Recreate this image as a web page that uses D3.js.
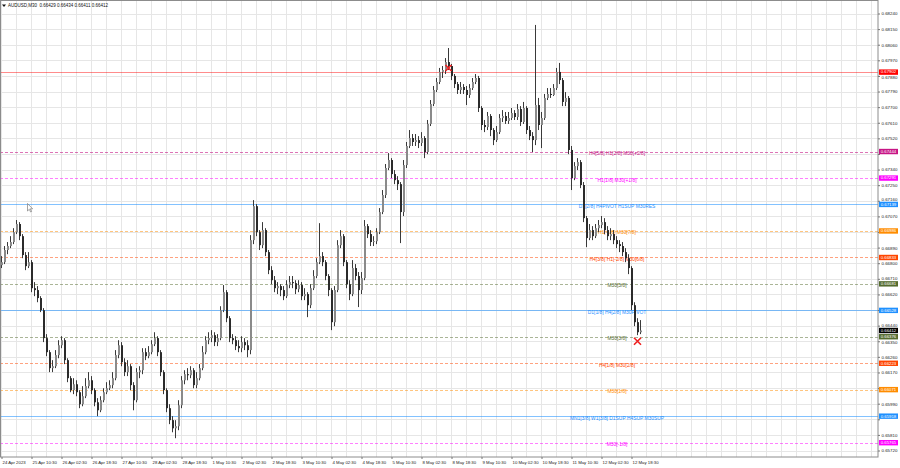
<!DOCTYPE html>
<html><head><meta charset="utf-8">
<script src="https://cdn.jsdelivr.net/npm/d3@7/dist/d3.min.js"></script>
<style>html,body{margin:0;padding:0;background:#fff;overflow:hidden}</style>
</head><body>
<svg id="c" width="900" height="468"></svg>
<script>
// ---------- data ----------
const symbolTitle = "AUDUSD,M30  0.66429 0.66434 0.66411 0.66412";
const firstOpen = 0.66789;
const closes = [
0.66806,0.66876,0.66899,0.66922,0.66979,0.67026,0.66956,0.66847,0.66783,0.66806,
0.66656,0.66645,0.66599,0.66529,0.66368,0.66287,0.66195,0.66206,0.66270,0.66327,
0.66356,0.66241,0.66137,0.66068,0.66102,0.66056,0.65987,0.66033,0.66091,0.66125,
0.66068,0.65998,0.65952,0.66010,0.66056,0.66079,0.66097,0.66137,0.66270,0.66327,
0.66229,0.66172,0.66206,0.66097,0.66010,0.66172,0.66183,0.66287,0.66264,0.66287,
0.66333,0.66368,0.66287,0.66172,0.66068,0.65964,0.65895,0.65848,0.65860,0.65981,
0.66125,0.66160,0.66154,0.66183,0.66097,0.66137,0.66195,0.66287,0.66356,0.66368,
0.66385,0.66345,0.66368,0.66529,0.66633,0.66483,0.66368,0.66356,0.66322,0.66310,
0.66345,0.66327,0.66299,0.66933,0.67129,0.66979,0.66904,0.66991,0.66864,0.66760,
0.66702,0.66656,0.66668,0.66645,0.66610,0.66674,0.66691,0.66685,0.66650,0.66674,
0.66610,0.66622,0.66558,0.66656,0.66726,0.66806,0.66841,0.66806,0.66726,0.66645,
0.66460,0.66645,0.66904,0.66956,0.66806,0.66679,0.66622,0.66772,0.66726,0.66645,
0.66714,0.67014,0.66968,0.66922,0.66927,0.66979,0.67095,0.67193,0.67349,0.67395,
0.67314,0.67279,0.67256,0.67095,0.67366,0.67476,0.67522,0.67499,0.67510,0.67493,
0.67522,0.67441,0.67603,0.67718,0.67799,0.67845,0.67903,0.67914,0.67960,0.67937,
0.67880,0.67833,0.67799,0.67816,0.67799,0.67770,0.67810,0.67845,0.67868,0.67695,
0.67597,0.67585,0.67649,0.67568,0.67510,0.67556,0.67637,0.67649,0.67620,0.67637,
0.67666,0.67643,0.67689,0.67614,0.67695,0.67568,0.67533,0.67510,0.67712,0.67597,
0.67637,0.67753,0.67776,0.67770,0.67810,0.67903,0.67856,0.67730,0.67753,0.67453,
0.67291,0.67360,0.67383,0.67251,0.67060,0.66945,0.66991,0.66956,0.67002,0.67020,
0.67037,0.66991,0.66956,0.66968,0.66933,0.66910,0.66899,0.66864,0.66829,0.66772,
0.66558,0.66460,0.66402,0.66412];
const highs = [
0.66841,0.66899,0.66922,0.66956,0.67002,0.67049,0.67037,0.66968,0.66864,0.66864,
0.66818,0.66691,0.66668,0.66610,0.66541,0.66391,0.66299,0.66241,0.66299,0.66356,
0.66379,0.66368,0.66252,0.66149,0.66137,0.66125,0.66068,0.66091,0.66137,0.66172,
0.66149,0.66079,0.66022,0.66033,0.66079,0.66114,0.66125,0.66172,0.66299,0.66356,
0.66345,0.66252,0.66241,0.66218,0.66114,0.66195,0.66206,0.66310,0.66310,0.66322,
0.66356,0.66402,0.66379,0.66299,0.66183,0.66079,0.65987,0.65918,0.65895,0.66010,
0.66149,0.66183,0.66195,0.66206,0.66195,0.66172,0.66218,0.66322,0.66379,0.66402,
0.66414,0.66402,0.66391,0.66552,0.66674,0.66645,0.66495,0.66391,0.66379,0.66356,
0.66379,0.66368,0.66356,0.66962,0.67164,0.67141,0.66991,0.67037,0.67002,0.66876,
0.66783,0.66726,0.66691,0.66679,0.66668,0.66702,0.66726,0.66726,0.66702,0.66702,
0.66691,0.66656,0.66633,0.66679,0.66760,0.66829,0.67031,0.66864,0.66818,0.66737,
0.66656,0.66668,0.66933,0.66991,0.66968,0.66818,0.66702,0.66818,0.66795,0.66749,
0.66749,0.67049,0.67026,0.66991,0.66956,0.67002,0.67118,0.67222,0.67372,0.67435,
0.67406,0.67337,0.67302,0.67268,0.67395,0.67499,0.67568,0.67545,0.67545,0.67533,
0.67556,0.67533,0.67626,0.67741,0.67822,0.67868,0.67926,0.67937,0.67983,0.68041,
0.67949,0.67891,0.67845,0.67845,0.67833,0.67822,0.67833,0.67868,0.67891,0.67880,
0.67706,0.67626,0.67672,0.67660,0.67579,0.67591,0.67660,0.67683,0.67672,0.67672,
0.67695,0.67683,0.67718,0.67706,0.67730,0.67706,0.67591,0.67556,0.68174,0.67753,
0.67672,0.67776,0.67810,0.67810,0.67833,0.67926,0.67955,0.67868,0.67787,0.67764,
0.67476,0.67383,0.67406,0.67395,0.67268,0.67072,0.67026,0.67014,0.67026,0.67049,
0.67072,0.67060,0.67014,0.67002,0.66991,0.66956,0.66933,0.66922,0.66887,0.66852,
0.66783,0.66575,0.66483,0.66472];
const lows = [
0.66772,0.66795,0.66852,0.66887,0.66910,0.66968,0.66933,0.66829,0.66760,0.66772,
0.66633,0.66610,0.66575,0.66518,0.66345,0.66264,0.66172,0.66172,0.66195,0.66252,
0.66310,0.66218,0.66114,0.66056,0.66045,0.66033,0.65964,0.65975,0.66022,0.66079,
0.66045,0.65975,0.65918,0.65941,0.65998,0.66045,0.66068,0.66079,0.66125,0.66252,
0.66206,0.66149,0.66149,0.66068,0.65952,0.65998,0.66137,0.66160,0.66241,0.66252,
0.66275,0.66322,0.66264,0.66149,0.66045,0.65941,0.65872,0.65825,0.65791,0.65837,
0.65964,0.66102,0.66125,0.66137,0.66079,0.66079,0.66125,0.66183,0.66275,0.66333,
0.66345,0.66322,0.66322,0.66356,0.66518,0.66460,0.66345,0.66333,0.66299,0.66287,
0.66287,0.66299,0.66258,0.66275,0.66910,0.66956,0.66876,0.66887,0.66841,0.66737,
0.66679,0.66633,0.66622,0.66610,0.66587,0.66599,0.66656,0.66656,0.66622,0.66633,
0.66587,0.66587,0.66489,0.66541,0.66645,0.66714,0.66795,0.66783,0.66702,0.66610,
0.66414,0.66437,0.66633,0.66887,0.66783,0.66656,0.66587,0.66610,0.66702,0.66547,
0.66622,0.66702,0.66945,0.66899,0.66899,0.66910,0.66968,0.67083,0.67176,0.67337,
0.67291,0.67256,0.67222,0.66916,0.67072,0.67349,0.67464,0.67476,0.67476,0.67464,
0.67476,0.67406,0.67429,0.67591,0.67706,0.67787,0.67833,0.67868,0.67891,0.67914,
0.67856,0.67810,0.67776,0.67776,0.67776,0.67712,0.67753,0.67799,0.67833,0.67672,
0.67568,0.67556,0.67568,0.67533,0.67481,0.67499,0.67545,0.67614,0.67603,0.67603,
0.67626,0.67626,0.67626,0.67591,0.67603,0.67545,0.67510,0.67441,0.67481,0.67568,
0.67464,0.67626,0.67741,0.67753,0.67764,0.67799,0.67833,0.67706,0.67706,0.67429,
0.67222,0.67279,0.67337,0.67233,0.67037,0.66893,0.66933,0.66933,0.66945,0.66979,
0.67002,0.66968,0.66933,0.66933,0.66910,0.66887,0.66864,0.66841,0.66806,0.66737,
0.66529,0.66437,0.66385,0.66391];
const timeLabels = ["24 Apr 2023","25 Apr 10:30","26 Apr 02:30","26 Apr 18:30","27 Apr 10:30",
"28 Apr 02:30","28 Apr 18:30","1 May 10:30","2 May 02:30","2 May 18:30","3 May 10:30",
"4 May 02:30","4 May 18:30","5 May 10:30","8 May 02:30","8 May 18:30","9 May 10:30",
"10 May 02:30","10 May 18:30","11 May 10:30","12 May 02:30","12 May 18:30"];
const priceTickLabels = ["0.68240","0.68150","0.68060","0.67970","0.67880","0.67790","0.67700",
"0.67610","0.67520","0.67430","0.67340","0.67250","0.67160","0.67070","0.66980","0.66890",
"0.66800","0.66710","0.66620","0.66530","0.66440","0.66350","0.66260","0.66170","0.66080",
"0.65990","0.65900","0.65810","0.65720"];
const levelPrices = [0.67902,0.67444,0.67291,0.67139,0.66986,0.66833,0.66681,0.66528,0.66376,0.66223,0.66071,0.65918,0.65765];
const levelNames = ["","H4[5/8] H1[2/8] M30[+2/8]","H1[1/8] M30[+1/8]","D1[2/8] H4PIVOT H1SUP M30RES",
"H1[-1/8] M30[7/8]","H4[3/8] H1[-2/8] M30[6/8]","M30[5/8]","D1[1/8] H4[2/8] M30PIVOT","M30[3/8]",
"H4[1/8] M30[2/8]","M30[1/8]","MN1[3/8] W1[3/8] D1SUP H4SUP M30SUP","M30[-1/8]"];
const levelKinds = ["trade","mvr","magenta","blue","orange","orangered","olive","blue","olive","orangered","orange","blue","magenta"];
const currentPrice = 0.66412;
const markBars = [149, 212];
const markPrices = [0.67926, 0.66350];

// ---------- styles ----------
const kindStyle = {
  trade:     {color:"#ff0000", dash:null, op:0.45},
  mvr:       {color:"#c71585", dash:"3,2", op:0.6},
  magenta:   {color:"#ff00ff", dash:"3,2", op:0.5},
  blue:      {color:"#1e90ff", dash:null, op:0.55},
  orange:    {color:"#ff8c00", dash:"3,2", op:0.5},
  orangered: {color:"#ff4500", dash:"3,2", op:0.5},
  olive:     {color:"#556b2f", dash:"3,2", op:0.5}
};
const FONT = "'Liberation Sans', Arial, sans-serif";
const W = 900, H = 468, plotR = 878, plotB = 457;

const svg = d3.select("#c");
svg.append("rect").attr("width",W).attr("height",H).attr("fill","#fff");

const x = d3.scaleLinear().domain([0, closes.length - 1]).range([1.5, 640.5]);
const y = d3.scaleLinear().domain([0.65720, 0.68240]).range([450.5, 13.5]);
const tickVals = priceTickLabels.map(Number);

svg.append("defs").append("clipPath").attr("id","plot")
  .append("rect").attr("x",0).attr("y",0).attr("width",plotR).attr("height",plotB);

// grid
const grid = svg.append("g").attr("clip-path","url(#plot)");
grid.selectAll("line.v").data(d3.range(0, 295, 5)).join("line")
  .attr("x1",d=>x(d)).attr("x2",d=>x(d)).attr("y1",0).attr("y2",plotB)
  .attr("stroke","#e6e6e6").attr("stroke-width",1);
grid.selectAll("line.h").data(tickVals).join("line")
  .attr("x1",0).attr("x2",plotR).attr("y1",d=>Math.round(y(d))+0.5).attr("y2",d=>Math.round(y(d))+0.5)
  .attr("stroke","#e6e6e6").attr("stroke-width",1);

// levels
const levels = levelPrices.map((p,i)=>({p, name:levelNames[i], st:kindStyle[levelKinds[i]]}));
const lg = svg.append("g");
lg.selectAll("line").data(levels).join("line")
  .attr("x1",0).attr("x2",plotR)
  .attr("y1",d=>Math.round(y(d.p))+0.5).attr("y2",d=>Math.round(y(d.p))+0.5)
  .attr("stroke",d=>d.st.color).attr("stroke-opacity",d=>d.st.op)
  .attr("stroke-dasharray",d=>d.st.dash).attr("stroke-width",1);
lg.selectAll("text").data(levels.filter(d=>d.name)).join("text")
  .attr("x",617).attr("y",d=>y(d.p)+2.2)
  .attr("text-anchor","middle").attr("dominant-baseline","middle")
  .attr("font-family",FONT).attr("font-size",4.9)
  .attr("fill",d=>d.st.color).text(d=>d.name);

// candles
const bars = closes.map((c,i)=>({i, o: i ? closes[i-1] : firstOpen, h: highs[i], l: lows[i], c}));
const cg = svg.append("g").attr("clip-path","url(#plot)");
cg.selectAll("line").data(bars).join("line")
  .attr("x1",d=>x(d.i)).attr("x2",d=>x(d.i))
  .attr("y1",d=>y(Math.max(d.h,d.o,d.c))).attr("y2",d=>y(Math.min(d.l,d.o,d.c)))
  .attr("stroke","#3a3a3a").attr("stroke-width",1);
cg.selectAll("rect").data(bars).join("rect")
  .attr("x",d=>x(d.i)-0.5).attr("width",2)
  .attr("y",d=>y(Math.max(d.o,d.c)))
  .attr("height",d=>Math.max(0.8, Math.abs(y(d.o)-y(d.c))))
  .attr("fill",d=>d.c>=d.o ? "#8a8a8a" : "#2b2b2b");

// trade marks
const mk = svg.append("g");
markBars.forEach((b,i)=>{
  const cx = x(b), cy = y(markPrices[i]), s = i===0 ? 3 : 3.5;
  mk.append("path").attr("d",`M${cx-s},${cy-s}L${cx+s},${cy+s}M${cx-s},${cy+s}L${cx+s},${cy-s}`)
    .attr("stroke","#ee2020").attr("stroke-width",1.6).attr("fill","none");
});

// frame
svg.append("rect").attr("x",0.5).attr("y",0.5).attr("width",plotR-0.5).attr("height",plotB-0.5)
  .attr("fill","none").attr("stroke","#8c8c8c").attr("stroke-width",1);

// right axis (labels fully covered by a price box are not shown, as in the terminal;
// labels partly touching a box are nudged just clear of it)
const boxes = levels.map(d=>({p:d.p, color:d.st.color})).concat([{p:currentPrice, color:"#000"}]);
const nearest = v => boxes.reduce((a,b)=>Math.abs(y(b.p)-y(v)) < Math.abs(y(a.p)-y(v)) ? b : a);
const covered = v => Math.abs(y(nearest(v).p) - y(v)) < 3.4;
const nudge = v => {
  const d = y(v) - y(nearest(v).p);
  const clear = 5.4;
  if (Math.abs(d) >= 3.4 && Math.abs(d) < clear) return (Math.sign(d) * clear) - d;
  return 0;
};
const ra = svg.append("g").attr("transform",`translate(${plotR},0)`)
  .call(d3.axisRight(y).tickValues(tickVals).tickFormat((d,i)=>priceTickLabels[i]).tickSize(2).tickPadding(1.5));
ra.select(".domain").remove();
ra.selectAll("line").attr("stroke","#777");
ra.selectAll("text").attr("font-family",FONT).attr("font-size",4.4).attr("fill","#222")
  .attr("dy",d=>(0.32*4.4 + nudge(d)).toFixed(2))
  .attr("display",d=>covered(d) ? "none" : null);

// bottom axis
const ba = svg.append("g").attr("transform",`translate(0,${plotB})`)
  .call(d3.axisBottom(x).tickValues(timeLabels.map((t,i)=>i*10)).tickFormat((d,i)=>timeLabels[i]).tickSize(2).tickPadding(2));
ba.select(".domain").remove();
ba.selectAll("line").attr("stroke","#777");
ba.selectAll("text").attr("text-anchor","start").attr("dx",0.5)
  .attr("font-family",FONT).attr("font-size",4.3).attr("fill","#222");

// price boxes
const pb = svg.append("g");
pb.selectAll("rect").data(boxes).join("rect")
  .attr("x",plotR+1).attr("y",d=>y(d.p)-2.7).attr("width",19).attr("height",5.4)
  .attr("fill",d=>d.color);
pb.selectAll("text").data(boxes).join("text")
  .attr("x",plotR+10.5).attr("y",d=>y(d.p)+0.2)
  .attr("text-anchor","middle").attr("dominant-baseline","middle")
  .attr("font-family",FONT).attr("font-size",4.3).attr("fill","#fff")
  .text(d=>d3.format(".5f")(d.p));

// title
svg.append("path").attr("d","M2,4.5L6,4.5L4,7Z").attr("fill","#111");
svg.append("text").attr("x",8).attr("y",6.2).attr("dominant-baseline","middle")
  .attr("font-family",FONT).attr("font-size",4.5).attr("fill","#111")
  .attr("xml:space","preserve").style("white-space","pre").text(symbolTitle);

// mouse cursor
svg.append("path").attr("d","M27.5,203.5 L27.5,211 L29.3,209.3 L30.6,212 L31.6,211.5 L30.3,208.8 L32.6,208.8 Z")
  .attr("fill","#fff").attr("stroke","#666").attr("stroke-width",0.6);
</script>
</body></html>
